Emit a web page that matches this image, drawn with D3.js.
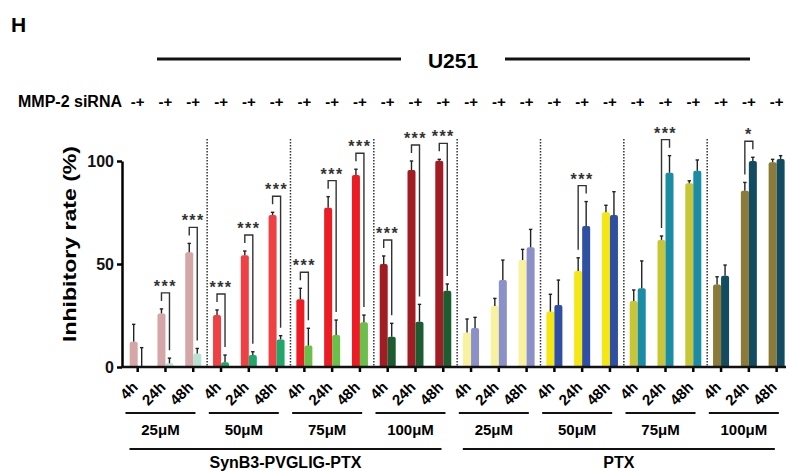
<!DOCTYPE html>
<html>
<head>
<meta charset="utf-8">
<script src="https://cdn.jsdelivr.net/npm/d3@7"></script>
<style>
  body { margin: 0; background: #fff; }
  svg { display: block; font-family: "Liberation Sans", Arial, sans-serif; font-weight: bold; }
</style>
</head>
<body>
<div id="chart"></div>
<script>
// Data (U251, inhibitory rate %)
const drugs = ["SynB3-PVGLIG-PTX", "PTX"];
const doses = ["25μM", "50μM", "75μM", "100μM"];
const times = ["4h", "24h", "48h"];
const siRNA = ["-", "+"];

// one value per (drug, dose, time), in that order
const meanMinus = [12.3, 26.0, 55.7, 25.2, 54.2, 73.8, 32.9, 77.3, 93.2, 50.0, 95.6, 100.1,
                   16.7, 29.6, 51.9, 26.9, 46.6, 75.1, 32.0, 61.7, 89.2, 40.1, 85.6, 99.4];
const errMinus  = [8.4, 2.2, 4.3, 2.5, 2.1, 1.3, 5.3, 5.4, 2.8, 3.9, 4.4, 0.7,
                   6.6, 3.7, 5.2, 8.4, 6.4, 3.4, 5.4, 1.9, 1.2, 3.7, 4.0, 1.4];
const meanPlus  = [0.0, 1.8, 6.6, 2.3, 5.8, 13.4, 10.4, 15.5, 21.7, 14.7, 22.0, 37.0,
                   18.9, 42.2, 58.1, 30.1, 68.4, 73.8, 38.2, 94.3, 95.3, 44.3, 100.0, 101.0];
const errPlus   = [9.4, 2.5, 2.4, 3.5, 1.6, 1.8, 8.4, 7.3, 3.5, 6.5, 8.4, 3.3,
                   5.2, 9.7, 8.7, 12.1, 11.9, 11.3, 13.3, 8.3, 5.2, 5.2, 1.8, 1.6];

// significance brackets: index of the (drug, dose, time) pair and its label
const sigPairs  = [1, 2, 3, 4, 5, 6, 7, 8, 9, 10, 11, 16, 19, 22];
const sigLabels = ["***", "***", "***", "***", "***", "***", "***", "***", "***", "***", "***", "***", "***", "*"];

// colours per dose group, [-, +]
const groupColors = [
  ["#d4a7a6", "#b9e1d1"], ["#ef4144", "#22a76b"], ["#ec1c24", "#6bbf4b"], ["#a11c23", "#1b5d31"],
  ["#f8f29e", "#8c90c9"], ["#f5e616", "#2f4fa3"], ["#c8c536", "#1a8ca4"], ["#8c7a38", "#134c60"]
];

const width = 789, height = 471;

// build rows
let rows = [];
drugs.forEach(function(drug, di) {
  doses.forEach(function(dose, si) {
    times.forEach(function(t, ti) {
      let i = di * 12 + si * 3 + ti;
      rows.push({id: i, drug: drug, dose: dose, group: di * 4 + si, time: t,
                 minus: meanMinus[i], eMinus: errMinus[i], plus: meanPlus[i], ePlus: errPlus[i]});
    });
  });
});

const svg = d3.select("#chart").append("svg")
  .attr("width", width).attr("height", height);

let x = d3.scaleBand()
  .domain(rows.map(d => d.id))
  .range([123.8, 123.8 + 24 * 27.78])
  .paddingInner(0).paddingOuter(0);
let xc = id => x(id) + x.bandwidth() / 2;

let xInner = d3.scaleBand().domain(siRNA)
  .range([x.bandwidth() / 2 - 8, x.bandwidth() / 2 + 8]);

let y = d3.scaleLinear().domain([0, 100]).range([367, 161]);

// bar with slightly rounded top
function barPath(x0, w, top, base) {
  let r = Math.min(2, (base - top) / 2, w / 2);
  return `M${x0},${base}V${top + r}Q${x0},${top} ${x0 + r},${top}H${x0 + w - r}` +
         `Q${x0 + w},${top} ${x0 + w},${top + r}V${base}Z`;
}

// panel letter and header
svg.append("text").attr("x", 11).attr("y", 32).style("font-size", "21px").style("font-weight", 900).text("H");

svg.append("line").attr("x1", 157).attr("x2", 401).attr("y1", 59).attr("y2", 59)
  .attr("stroke", "#111").attr("stroke-width", 3);
svg.append("line").attr("x1", 505).attr("x2", 750).attr("y1", 59).attr("y2", 59)
  .attr("stroke", "#111").attr("stroke-width", 3);
svg.append("text").attr("x", 453).attr("y", 68).attr("text-anchor", "middle")
  .style("font-size", "21px").text("U251");

svg.append("text").attr("x", 18).attr("y", 107).style("font-size", "16px").text("MMP-2 siRNA");
svg.selectAll(".pm").data(rows).enter().append("text")
  .attr("class", "pm")
  .attr("x", d => xc(d.id)).attr("y", 107)
  .attr("text-anchor", "middle").style("font-size", "15px")
  .text(siRNA.join(""));

// dotted group separators
let sepX = d3.range(1, 8).map(g => (xc(g * 3 - 1) + xc(g * 3)) / 2);
svg.selectAll(".sep").data(sepX).enter().append("line")
  .attr("x1", d => d).attr("x2", d => d).attr("y1", 139).attr("y2", y(0))
  .attr("stroke", "#333").attr("stroke-width", 1.5).attr("stroke-dasharray", "1.5 1.5");

// bars
let pairs = svg.append("g").selectAll("g").data(rows).enter().append("g")
  .attr("transform", d => `translate(${x(d.id)},0)`);

siRNA.forEach(function(s, k) {
  let val = d => k === 0 ? d.minus : d.plus;
  let err = d => k === 0 ? d.eMinus : d.ePlus;
  pairs.filter(d => val(d) > 0).append("path")
    .attr("d", d => barPath(xInner(s), xInner.bandwidth(), y(val(d)), y(0)))
    .attr("fill", d => groupColors[d.group][k]);
  // error bars
  pairs.append("line")
    .attr("x1", xInner(s) + 4).attr("x2", xInner(s) + 4)
    .attr("y1", d => y(val(d))).attr("y2", d => y(val(d) + err(d)))
    .attr("stroke", "#222").attr("stroke-width", 1.4);
  pairs.append("line")
    .attr("x1", xInner(s) + 2.3).attr("x2", xInner(s) + 5.7)
    .attr("y1", d => y(val(d) + err(d))).attr("y2", d => y(val(d) + err(d)))
    .attr("stroke", "#222").attr("stroke-width", 1.4);
});

// significance brackets
let sig = sigPairs.map((p, i) => ({row: rows[p], label: sigLabels[i]}));
let sg = svg.append("g").selectAll("g").data(sig).enter().append("g")
  .attr("transform", d => `translate(${x(d.row.id)},0)`);
sg.append("path")
  .attr("fill", "none").attr("stroke", "#333").attr("stroke-width", 1.4)
  .attr("d", function(d) {
    let r = d.row;
    let yl = y(r.minus + r.eMinus) - 8, yr = y(r.plus + r.ePlus) - 8;
    let top = Math.min(yl, yr) - 8;
    let xl = xInner("-") + 4, xr = xInner("+") + 4;
    return `M${xl},${yl}V${top}H${xr}V${yr}`;
  });
sg.append("text")
  .attr("x", x.bandwidth() / 2)
  .attr("y", function(d) {
    let r = d.row;
    return Math.min(y(r.minus + r.eMinus), y(r.plus + r.ePlus)) - 17;
  })
  .attr("text-anchor", "middle")
  .style("font-size", "16px").style("letter-spacing", "1.5px").attr("fill", "#333")
  .text(d => d.label);

// y axis
let yAxis = svg.append("g").attr("transform", "translate(122,0)")
  .call(d3.axisLeft(y).tickValues([0, 50, 100]).tickSize(5).tickPadding(3).tickSizeOuter(0));
yAxis.select(".domain").attr("stroke-width", 2.5);
yAxis.selectAll(".tick line").attr("stroke-width", 2.5);
yAxis.selectAll(".tick text").style("font-size", "16px").style("font-weight", "bold")
  .style("font-family", "'Liberation Sans', Arial, sans-serif").attr("fill", "#111");

svg.append("text")
  .attr("transform", "translate(76,244) rotate(-90)")
  .attr("text-anchor", "middle")
  .attr("textLength", 196).attr("lengthAdjust", "spacingAndGlyphs")
  .style("font-size", "18px").text("Inhibitory rate (%)");

// x axis
let xAxis = svg.append("g").attr("transform", `translate(0,${y(0)})`)
  .call(d3.axisBottom(x).tickSize(5).tickSizeOuter(0).tickFormat(""));
xAxis.select(".domain").remove();
xAxis.selectAll(".tick line").attr("stroke-width", 2.5);
svg.append("line").attr("x1", 121).attr("x2", 786).attr("y1", y(0)).attr("y2", y(0))
  .attr("stroke", "#111").attr("stroke-width", 2.5);

svg.selectAll(".tlab").data(rows).enter().append("text")
  .attr("class", "tlab")
  .attr("transform", d => `translate(${xc(d.id) + 1},388) rotate(-45)`)
  .attr("text-anchor", "end").style("font-size", "15px")
  .text(d => d.time);

// dose groups
let groups = d3.range(8).map(g => ({g: g, dose: doses[g % 4], c: xc(g * 3 + 1)}));
svg.selectAll(".gline").data(groups).enter().append("line")
  .attr("x1", d => d.c - 40).attr("x2", d => d.c + 30).attr("y1", 413).attr("y2", 413)
  .attr("stroke", "#111").attr("stroke-width", 2);
svg.selectAll(".glab").data(groups).enter().append("text")
  .attr("x", d => d.c - 5).attr("y", 435).attr("text-anchor", "middle")
  .style("font-size", "15px").text(d => d.dose);

// drug groups
let drugSpans = drugs.map((dname, di) => ({name: dname, a: xc(di * 12 + 1) - 36, b: xc(di * 12 + 10) + 26}));
svg.selectAll(".dline").data(drugSpans).enter().append("line")
  .attr("x1", d => d.a).attr("x2", d => d.b).attr("y1", 449).attr("y2", 449)
  .attr("stroke", "#111").attr("stroke-width", 2);
svg.selectAll(".dlab").data(drugSpans).enter().append("text")
  .attr("x", d => (d.a + d.b) / 2).attr("y", 468).attr("text-anchor", "middle")
  .style("font-size", "16px").text(d => d.name);
</script>
</body>
</html>
